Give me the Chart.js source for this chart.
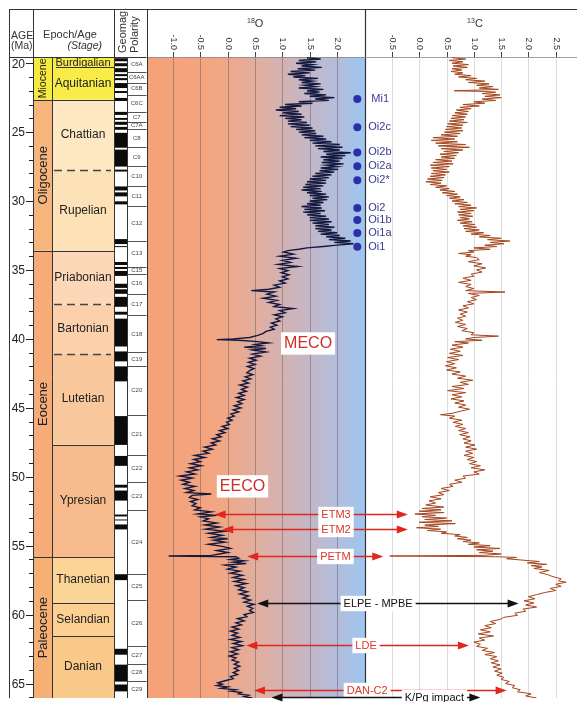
<!DOCTYPE html>
<html>
<head>
<meta charset="utf-8">
<script src="https://cdn.jsdelivr.net/npm/chart.js@4.4.1/dist/chart.umd.min.js"></script>
<style>
html, body { margin: 0; padding: 0; background: #fff; }
canvas { display: block; }
</style>
</head>
<body>
<canvas id="chart" width="581" height="702"></canvas>
<script>
// visible age window (Ma) and the value range of each isotope panel
const ageMin = 19.55, ageMax = 66.05;
const o18Min = -1.476, o18Max = 2.51;
const c13Min = -0.995, c13Max = 2.89;

const ageTicks = [20, 25, 30, 35, 40, 45, 50, 55, 60, 65];
const o18Ticks = [-1.0, -0.5, 0.0, 0.5, 1.0, 1.5, 2.0];
const c13Ticks = [-0.5, 0.0, 0.5, 1.0, 1.5, 2.0, 2.5];

const epochNames = ['Miocene', 'Oligocene', 'Eocene', 'Paleocene'];
const epochBounds = [19.55, 22.65, 33.6, 55.84, 66.05];

const stageNames = ['Burdigalian', 'Aquitanian', 'Chattian', 'Rupelian', 'Priabonian', 'Bartonian',
  'Lutetian', 'Ypresian', 'Thanetian', 'Selandian', 'Danian'];
const stageBounds = [19.55, 20.3, 22.65, 27.76, 33.6, 37.5, 41.06, 47.67, 55.84, 59.16, 61.56, 66.05];

const chronNames = ['C6A', 'C6AA', 'C6B', 'C6C', 'C7', 'C7A', 'C8', 'C9', 'C10', 'C11', 'C12', 'C13', 'C15',
  'C16', 'C17', 'C18', 'C19', 'C20', 'C21', 'C22', 'C23', 'C24', 'C25', 'C26', 'C27', 'C28', 'C29'];
const chronBounds = [19.55, 20.63, 21.42, 22.29, 23.55, 24.24, 24.74, 26.11, 27.48, 28.92, 30.36, 32.89, 34.76,
  35.27, 36.71, 38.3, 40.97, 41.98, 45.51, 48.39, 50.41, 52.43, 57.04, 58.92, 62.31, 63.61, 64.84, 66.05];

// normal polarity intervals [young, old]
const normalPolarity = [[19.64, 19.86], [20.0, 20.22], [20.36, 20.65], [20.79, 20.94], [21.08, 21.23],
  [21.44, 21.8], [22.02, 22.16], [22.52, 22.74], [23.53, 23.75], [23.97, 24.11], [24.25, 24.47],
  [24.62, 24.83], [25.05, 26.13], [26.27, 27.5], [27.72, 27.86], [28.94, 29.23], [29.37, 29.66],
  [30.02, 30.24], [32.76, 33.12], [33.27, 33.34], [34.42, 34.64], [34.78, 34.93], [35.07, 35.43],
  [36.0, 36.3], [36.4, 36.73], [36.95, 37.67], [38.03, 38.24], [38.53, 40.55], [40.91, 41.63],
  [41.99, 43.08], [45.6, 47.69], [48.49, 49.21], [50.58, 50.79], [51.0, 51.73], [52.74, 52.88],
  [53.1, 53.17], [53.46, 53.82], [57.07, 57.5], [62.48, 62.91], [63.63, 64.86], [65.07, 65.57]];

// benthic d18O [age Ma, permil]
const o18Miocene = [[19.6,1.45],[19.7,1.7],[19.8,1.3],[19.9,1.62],[20.0,1.25],[20.1,1.55],[20.2,1.35],[20.3,1.72],
  [20.4,1.28],[20.5,1.6],[20.6,1.15],[20.7,1.5],[20.8,1.1],[20.9,1.42],[21.0,1.2],[21.1,1.65],[21.2,1.3],
  [21.3,1.55],[21.4,1.35],[21.5,1.7],[21.6,1.4],[21.7,1.6],[21.8,1.3],[21.9,1.75],[22.0,1.45],[22.1,1.68],
  [22.2,1.4],[22.3,1.8],[22.4,1.5],[22.5,1.95],[22.6,1.6]];
const o18Oligocene = [[22.7,1.85],[22.8,1.3],[22.9,1.55],[23.0,1.05],[23.1,1.35],[23.2,0.95],[23.3,1.25],
  [23.4,0.88],[23.5,1.3],[23.6,1.0],[23.7,1.35],[23.8,0.95],[23.9,1.4],[24.0,1.05],[24.1,1.35],[24.2,1.1],
  [24.3,1.45],[24.4,1.1],[24.5,1.5],[24.6,1.15],[24.7,1.55],[24.8,1.25],[24.9,1.6],[25.0,1.3],[25.1,1.62],
  [25.2,1.35],[25.3,1.75],[25.4,1.4],[25.5,1.8],[25.6,1.5],[25.7,1.9],[25.8,1.55],[25.9,2.05],[26.0,1.6],
  [26.1,2.1],[26.2,1.65],[26.3,2.05],[26.4,1.75],[26.5,2.25],[26.6,1.8],[26.7,2.15],[26.8,1.7],[26.9,2.1],
  [27.0,1.75],[27.1,2.05],[27.2,1.72],[27.3,2.12],[27.4,1.8],[27.5,2.0],[27.6,1.7],[27.7,2.02],[27.8,1.68],
  [27.9,1.95],[28.0,1.6],[28.1,1.9],[28.2,1.55],[28.3,1.85],[28.4,1.5],[28.5,1.8],[28.6,1.45],[28.7,1.8],
  [28.8,1.42],[28.9,1.75],[29.0,1.38],[29.1,1.7],[29.2,1.35],[29.3,1.72],[29.4,1.45],[29.5,1.8],[29.6,1.5],
  [29.7,1.85],[29.8,1.55],[29.9,1.82],[30.0,1.5],[30.1,1.75],[30.2,1.45],[30.3,1.7],[30.4,1.35],[30.5,1.72],
  [30.6,1.4],[30.7,1.78],[30.8,1.38],[30.9,1.7],[31.0,1.45],[31.1,1.8],[31.2,1.5],[31.3,1.85],[31.4,1.5],
  [31.5,1.9],[31.6,1.55],[31.7,1.85],[31.8,1.6],[31.9,1.95],[32.0,1.6],[32.1,1.9],[32.2,1.65],[32.3,2.0],
  [32.4,1.7],[32.5,2.05],[32.6,1.8],[32.7,2.15],[32.8,1.85],[32.9,2.25],[33.0,1.95],[33.1,2.3],[33.2,2.0],
  [33.3,1.75],[33.4,1.45],[33.5,1.3],[33.6,1.1]];
const o18Eocene = [[33.7,1.02],[33.85,1.2],[34.0,0.95],[34.15,1.25],[34.3,1.0],[34.45,1.15],[34.6,0.92],
  [34.75,1.28],[34.9,0.95],[35.05,1.1],[35.2,0.98],[35.35,1.12],[35.5,1.0],[35.65,1.1],[35.8,0.95],[35.95,1.05],
  [36.1,0.85],[36.25,0.95],[36.4,0.75],[36.5,0.43],[36.6,0.85],[36.75,0.72],[36.9,0.88],[37.05,0.65],[37.2,0.9],
  [37.35,0.75],[37.5,0.95],[37.65,0.85],[37.8,1.2],[37.95,0.95],[38.1,1.05],[38.25,0.85],[38.4,1.0],[38.55,0.88],
  [38.7,0.95],[38.85,0.8],[39.0,0.9],[39.15,0.78],[39.3,0.85],[39.45,0.7],[39.6,0.65],[39.75,0.55],[39.9,0.4],
  [40.0,0.1],[40.05,-0.2],[40.1,0.2],[40.2,0.55],[40.3,0.75],[40.4,0.5],[40.5,0.62],[40.6,0.3],[40.7,0.7],
  [40.8,0.45],[40.95,0.7],[41.1,0.45],[41.25,0.6],[41.4,0.4],[41.55,0.52],[41.7,0.38],[41.85,0.5],[42.0,0.36],
  [42.15,0.48],[42.3,0.4],[42.45,0.35],[42.6,0.46],[42.75,0.32],[42.9,0.42],[43.05,0.28],[43.2,0.38],[43.35,0.22],
  [43.5,0.36],[43.65,0.25],[43.8,0.34],[43.95,0.2],[44.1,0.3],[44.25,0.16],[44.4,0.3],[44.55,0.18],[44.7,0.26],
  [44.85,0.12],[45.0,0.24],[45.15,0.1],[45.3,0.2],[45.45,0.06],[45.6,0.12],[45.75,0.0],[45.9,0.08],[46.05,-0.02],
  [46.2,0.03],[46.35,-0.1],[46.5,0.0],[46.65,-0.15],[46.8,-0.05],[46.95,-0.2],[47.1,-0.12],[47.25,-0.28],
  [47.4,-0.15],[47.55,-0.3],[47.7,-0.22],[47.85,-0.42],[48.0,-0.28],[48.15,-0.45],[48.3,-0.35],[48.45,-0.6],
  [48.6,-0.42],[48.75,-0.62],[48.9,-0.5],[49.05,-0.68],[49.2,-0.48],[49.35,-0.7],[49.5,-0.55],[49.65,-0.75],
  [49.8,-0.6],[49.95,-0.88],[50.1,-0.65],[50.25,-0.85],[50.4,-0.7],[50.55,-0.82],[50.7,-0.6],[50.85,-0.78],
  [51.0,-0.62],[51.15,-0.75],[51.25,-0.3],[51.35,-0.65],[51.5,-0.7],[51.65,-0.55],[51.8,-0.68],[51.95,-0.58],
  [52.1,-0.65],[52.25,-0.5],[52.4,-0.6],[52.55,-0.3],[52.7,-0.55],[52.8,-0.2],[52.9,-0.5],[53.05,-0.35],
  [53.2,-0.45],[53.35,-0.2],[53.5,-0.42],[53.65,-0.15],[53.8,-0.4],[53.95,-0.05],[54.1,-0.35],[54.25,-0.1],
  [54.4,-0.3],[54.5,0.0],[54.6,-0.25],[54.75,-0.05],[54.9,-0.35],[55.05,-0.1],[55.2,0.05],[55.35,-0.2],
  [55.5,0.0],[55.6,-0.15],[55.7,-0.3],[55.75,-1.08],[55.8,0.15]];
const o18Paleocene = [[55.9,0.2],[56.0,0.05],[56.1,0.3],[56.2,0.1],[56.3,0.34],[56.4,-0.05],[56.55,0.15],
  [56.7,0.0],[56.85,0.22],[57.0,0.05],[57.15,0.27],[57.3,0.1],[57.45,0.3],[57.6,0.12],[57.75,0.34],[57.9,0.15],
  [58.05,0.3],[58.2,0.2],[58.35,0.36],[58.5,0.22],[58.65,0.38],[58.8,0.28],[58.95,0.42],[59.1,0.3],[59.25,0.48],
  [59.4,0.36],[59.55,0.46],[59.7,0.4],[59.85,0.47],[60.0,0.3],[60.15,0.35],[60.3,0.18],[60.45,0.3],[60.6,0.15],
  [60.75,0.25],[60.9,0.08],[61.05,0.2],[61.2,0.05],[61.35,0.18],[61.5,0.08],[61.65,0.22],[61.8,0.05],[61.95,0.25],
  [62.1,0.1],[62.25,0.27],[62.4,0.08],[62.55,0.2],[62.7,0.05],[62.85,0.18],[63.0,0.03],[63.15,0.15],[63.3,0.08],
  [63.45,0.2],[63.6,0.12],[63.75,0.22],[63.9,0.12],[64.05,0.2],[64.2,0.1],[64.35,0.18],[64.5,0.05],[64.65,0.1],
  [64.8,-0.05],[64.95,-0.18],[65.05,-0.1],[65.15,-0.2],[65.25,0.0],[65.35,-0.12],[65.45,0.15],[65.55,0.05],
  [65.65,0.25],[65.75,0.2],[65.85,0.38],[65.95,0.3],[66.05,0.45]];

// benthic d13C [age Ma, permil]
const c13Miocene = [[19.6,0.6],[19.7,0.85],[19.8,0.55],[19.9,0.8],[20.0,0.6],[20.1,0.9],[20.2,0.62],[20.3,0.88],
  [20.4,0.6],[20.5,0.78],[20.6,0.58],[20.7,0.8],[20.8,0.65],[20.9,0.95],[21.0,0.72],[21.1,1.05],[21.2,0.85],
  [21.3,1.2],[21.4,0.9],[21.5,1.28],[21.6,1.05],[21.7,1.35],[21.8,1.1],[21.9,1.45],[22.0,0.64],[22.05,1.2],
  [22.1,1.4],[22.2,1.15],[22.3,1.48],[22.4,1.2],[22.5,1.5],[22.6,1.15]];
const c13Oligocene = [[22.7,1.4],[22.8,1.0],[22.9,1.2],[23.0,0.8],[23.1,1.1],[23.2,0.75],[23.3,0.95],[23.4,0.68],
  [23.5,0.9],[23.6,0.65],[23.7,0.88],[23.8,0.6],[23.9,0.85],[24.0,0.58],[24.1,0.82],[24.2,0.55],[24.3,0.88],
  [24.4,0.52],[24.5,0.8],[24.6,0.5],[24.7,0.78],[24.8,0.48],[24.9,0.8],[25.0,0.46],[25.1,0.75],[25.2,0.4],
  [25.3,0.7],[25.4,0.25],[25.5,0.65],[25.6,0.22],[25.7,0.7],[25.8,0.3],[25.9,0.85],[26.0,0.35],[26.1,0.92],
  [26.2,0.4],[26.3,0.8],[26.4,0.45],[26.5,0.72],[26.6,0.38],[26.7,0.68],[26.8,0.4],[26.9,0.65],[27.0,0.3],
  [27.1,0.6],[27.2,0.25],[27.3,0.62],[27.4,0.2],[27.5,0.55],[27.6,0.22],[27.7,0.5],[27.8,0.25],[27.9,0.55],
  [28.0,0.22],[28.1,0.48],[28.2,0.2],[28.3,0.45],[28.4,0.15],[28.5,0.42],[28.6,0.12],[28.7,0.4],[28.8,0.2],
  [28.9,0.5],[29.0,0.3],[29.1,0.55],[29.2,0.38],[29.3,0.65],[29.4,0.42],[29.5,0.7],[29.6,0.5],[29.7,0.75],
  [29.8,0.55],[29.9,0.82],[30.0,0.6],[30.1,0.88],[30.2,0.65],[30.3,0.95],[30.4,0.72],[30.5,1.05],[30.6,0.75],
  [30.7,1.0],[30.8,0.7],[30.9,0.95],[31.0,0.72],[31.1,0.98],[31.2,0.75],[31.3,0.92],[31.4,0.7],[31.5,0.97],
  [31.6,0.75],[31.7,1.02],[31.8,0.8],[31.9,1.05],[32.0,0.82],[32.1,1.1],[32.2,0.85],[32.3,1.18],[32.4,0.95],
  [32.5,1.3],[32.6,1.1],[32.7,1.5],[32.8,1.25],[32.9,1.66],[33.0,1.3],[33.1,1.55],[33.2,1.2],[33.3,1.42],
  [33.4,1.0],[33.5,1.3],[33.6,0.9]];
const c13Eocene = [[33.7,1.0],[33.8,0.72],[33.9,0.95],[34.0,0.85],[34.1,1.05],[34.25,1.1],[34.4,0.9],[34.55,1.15],
  [34.7,1.0],[34.85,1.22],[35.0,1.05],[35.15,1.15],[35.3,0.95],[35.45,1.0],[35.6,0.8],[35.75,0.95],[35.9,0.72],
  [36.05,0.95],[36.2,0.85],[36.35,1.0],[36.5,0.85],[36.6,1.57],[36.7,0.9],[36.85,1.1],[37.0,0.95],[37.15,1.05],
  [37.3,0.88],[37.45,1.0],[37.6,0.8],[37.75,0.9],[37.9,0.72],[38.05,0.88],[38.2,0.75],[38.35,0.85],[38.5,0.7],
  [38.65,0.8],[38.8,0.66],[38.95,0.85],[39.1,0.7],[39.25,0.88],[39.4,0.78],[39.55,1.0],[39.7,0.95],[39.8,1.45],
  [39.9,1.0],[40.0,0.85],[40.1,1.15],[40.2,0.65],[40.3,0.9],[40.45,0.6],[40.6,0.8],[40.75,0.57],[40.9,0.75],
  [41.05,0.55],[41.2,0.8],[41.35,0.52],[41.5,0.72],[41.65,0.5],[41.8,0.65],[41.95,0.48],[42.1,0.68],[42.25,0.5],
  [42.4,0.75],[42.55,0.6],[42.7,0.85],[42.85,0.7],[43.0,0.98],[43.15,0.75],[43.3,0.9],[43.45,0.6],[43.6,0.82],
  [43.75,0.52],[43.9,0.85],[44.05,0.6],[44.2,0.78],[44.35,0.58],[44.5,0.82],[44.65,0.65],[44.8,0.85],[44.95,0.72],
  [45.1,0.92],[45.25,0.75],[45.4,0.6],[45.5,0.39],[45.6,0.65],[45.75,0.55],[45.9,0.78],[46.05,0.62],[46.2,0.8],
  [46.35,0.66],[46.5,0.85],[46.65,0.72],[46.8,0.9],[46.95,0.74],[47.1,0.93],[47.25,0.8],[47.4,0.95],[47.55,0.82],
  [47.7,1.02],[47.85,0.85],[48.0,1.05],[48.15,0.85],[48.3,0.98],[48.45,0.82],[48.6,1.0],[48.75,0.88],[48.9,1.05],
  [49.05,0.92],[49.2,1.12],[49.35,0.95],[49.5,1.2],[49.65,1.0],[49.8,1.1],[49.95,0.8],[50.1,0.85],[50.25,0.65],
  [50.4,0.78],[50.55,0.55],[50.7,0.62],[50.85,0.4],[51.0,0.55],[51.15,0.35],[51.3,0.45],[51.45,0.2],[51.6,0.4],
  [51.75,0.18],[51.9,0.3],[52.05,0.12],[52.2,0.45],[52.3,0.05],[52.4,0.4],[52.5,0.0],[52.6,0.45],[52.7,-0.08],
  [52.8,0.3],[52.9,0.05],[53.0,0.5],[53.1,0.1],[53.2,0.6],[53.3,0.0],[53.4,0.66],[53.5,0.1],[53.6,0.35],
  [53.7,-0.05],[53.8,0.39],[53.9,0.15],[54.0,0.5],[54.1,0.4],[54.2,0.75],[54.3,0.65],[54.4,0.88],[54.5,0.7],
  [54.6,0.95],[54.7,0.8],[54.8,1.1],[54.9,0.9],[55.0,1.3],[55.1,1.0],[55.2,1.48],[55.3,1.05],[55.4,1.35],
  [55.5,1.1],[55.6,1.5],[55.7,1.2],[55.75,-0.54],[55.8,1.4]];
const c13Paleocene = [[55.85,1.78],[55.95,1.6],[56.05,1.9],[56.15,2.2],[56.25,1.98],[56.35,2.33],[56.45,2.05],
  [56.55,2.25],[56.65,2.1],[56.8,2.38],[56.95,2.2],[57.1,2.35],[57.25,2.45],[57.4,2.6],[57.55,2.55],[57.65,2.69],
  [57.8,2.5],[57.95,2.6],[58.1,2.4],[58.25,2.5],[58.4,2.3],[58.55,2.15],[58.7,2.0],[58.85,2.12],[59.0,1.92],
  [59.15,2.1],[59.3,1.95],[59.45,2.15],[59.6,1.9],[59.75,1.95],[59.9,1.75],[60.05,1.8],[60.2,1.55],[60.35,1.48],
  [60.5,1.3],[60.65,1.4],[60.8,1.2],[60.95,1.32],[61.1,1.12],[61.25,1.3],[61.4,1.08],[61.55,1.36],[61.7,1.1],
  [61.85,1.2],[62.0,1.0],[62.15,1.12],[62.3,1.05],[62.45,1.25],[62.6,1.15],[62.75,1.38],[62.9,1.2],[63.05,1.42],
  [63.2,1.3],[63.35,1.45],[63.5,1.32],[63.65,1.48],[63.8,1.35],[63.95,1.5],[64.1,1.38],[64.25,1.52],[64.4,1.42],
  [64.55,1.55],[64.7,1.5],[64.85,1.65],[65.0,1.58],[65.15,1.75],[65.3,1.7],[65.45,1.85],[65.6,1.8],[65.75,2.05],
  [65.9,1.95],[66.05,2.15]];

// glaciation events (d18O maxima)
const eventNames = ['Mi1', 'Oi2c', 'Oi2b', 'Oi2a', 'Oi2*', 'Oi2', 'Oi1b', 'Oi1a', 'Oi1'];
const eventAges = [22.6, 24.65, 26.47, 27.48, 28.49, 30.51, 31.37, 32.31, 33.32];
const eventO18 = 2.37;

// warm events: arrow from the d18O curve to the d13C curve
const arrowNames = ['ETM3', 'ETM2', 'PETM', 'ELPE - MPBE', 'LDE', 'DAN-C2', 'K/Pg impact'];
const arrowAges = [52.72, 53.8, 55.74, 59.13, 62.2, 65.44, 66.0];
const arrowFromO18 = [-0.24, -0.1, 0.356, 0.54, 0.34, 0.48, 0.8];
const arrowToC13 = [-0.21, -0.21, -0.66, 1.82, 0.91, 1.6, 1.12];

const climateNames = ['MECO', 'EECO'];
const climateAges = [40.33, 50.7];

// ---------- styling ----------
const FONT = '"Liberation Sans", Arial, Helvetica, sans-serif';
const epochColors = ['#f7ea3e', '#f6b57c', '#f5ac79', '#f5b075'];
const epochFont = [10.5, 13, 13, 13];
const stageColors = ['#f8ec48', '#f8ec48', '#fde8c3', '#fce2b6', '#fcd8b8', '#fbd0ab', '#f9c89c', '#f8bb8d',
  '#fbd597', '#fbd092', '#f9c98a'];
const dashedAt = [27.76, 37.5, 41.06];
const arrowColors = ['#e0261f', '#e0261f', '#e0261f', '#111', '#e0261f', '#e0261f', '#111'];
const arrowLabelX = [1.98, 1.98, 1.97, 2.75, 2.53, 2.55, 3.78]; // label centres on the d18O scale
const climateLabelX = [1.47, 0.27];
const COL = { left: 9, age: 33, epoch: 52, stage: 114, pol: 127, chron: 146.5 };
const oShare = 220 / 434; // part of the plot width used by the d18O panel

function txt(ctx, s, x, y, size, o) {
  o = o || {};
  ctx.save();
  ctx.font = (o.style || '') + ' ' + size + 'px ' + FONT;
  ctx.fillStyle = o.color || '#222';
  ctx.textAlign = o.align || 'center';
  ctx.textBaseline = o.base || 'middle';
  ctx.translate(x, y);
  if (o.rot) ctx.rotate(o.rot);
  ctx.fillText(s, 0, 0);
  ctx.restore();
}

function hline(ctx, x1, x2, y, color, w, dash) {
  ctx.save();
  ctx.strokeStyle = color; ctx.lineWidth = w || 1;
  if (dash) ctx.setLineDash(dash);
  ctx.beginPath(); ctx.moveTo(x1, y); ctx.lineTo(x2, y); ctx.stroke();
  ctx.restore();
}

function vline(ctx, x, y1, y2, color, w) {
  ctx.save();
  ctx.strokeStyle = color; ctx.lineWidth = w || 1;
  ctx.beginPath(); ctx.moveTo(x, y1); ctx.lineTo(x, y2); ctx.stroke();
  ctx.restore();
}

const panels = {
  id: 'panels',
  beforeDatasetsDraw(chart) {
    const { ctx, chartArea: a, scales } = chart;
    const xO = scales.xO, xC = scales.xC;
    const left = xO.getPixelForValue(o18Min), mid = xO.getPixelForValue(o18Max);
    const right = xC.getPixelForValue(c13Max);
    ctx.save();
    const g = ctx.createLinearGradient(left, 0, mid, 0);
    g.addColorStop(0, '#f5a178');
    g.addColorStop(0.32, '#f3a682');
    g.addColorStop(0.55, '#dcb0a6');
    g.addColorStop(0.75, '#c3b7c8');
    g.addColorStop(0.9, '#aebfe0');
    g.addColorStop(1, '#9ec5f1');
    ctx.fillStyle = g;
    ctx.fillRect(left, a.top, mid - left, a.bottom - a.top);
    ctx.restore();

    o18Ticks.forEach(v => {
      const x = Math.round(xO.getPixelForValue(v)) + 0.5;
      vline(ctx, x, a.top, a.bottom, 'rgba(110,100,105,0.55)', 1);
      vline(ctx, x, 52, a.top, '#444', 1);
      txt(ctx, v.toFixed(1), x, 50, 9, { rot: Math.PI / 2, align: 'right', color: '#333' });
    });
    c13Ticks.forEach(v => {
      const x = Math.round(xC.getPixelForValue(v)) + 0.5;
      vline(ctx, x, a.top, a.bottom, '#dcdcdc', 1);
      vline(ctx, x, 52, a.top, '#444', 1);
      txt(ctx, v.toFixed(1), x, 50, 9, { rot: Math.PI / 2, align: 'right', color: '#333' });
    });

    // panel titles
    txt(ctx, '18', 251, 21, 7, { color: '#333' });
    txt(ctx, 'O', 259, 24, 11, { color: '#333' });
    txt(ctx, '13', 471, 21, 7, { color: '#333' });
    txt(ctx, 'C', 479, 24, 11, { color: '#333' });

    vline(ctx, Math.round(left) + 0.5, 9.5, a.bottom, '#222', 1);
    vline(ctx, Math.round(mid) + 0.5, 9.5, a.bottom, '#333', 1.2);
    hline(ctx, COL.left, right, 9.5, '#333', 1.2);
    hline(ctx, left, right, a.top + 0.5, '#888', 0.8);
  }
};

const columns = {
  id: 'columns',
  afterDraw(chart) {
    const { ctx, chartArea: a, scales } = chart;
    const Y = v => scales.y.getPixelForValue(v);
    const top = a.top, bot = a.bottom;

    ctx.save();
    ctx.fillStyle = '#fff';
    ctx.fillRect(COL.left, top, COL.age - COL.left, bot - top);

    // epochs
    epochNames.forEach((n, i) => {
      const y0 = Y(epochBounds[i]), y1 = Y(epochBounds[i + 1]);
      ctx.fillStyle = epochColors[i];
      ctx.fillRect(COL.age, y0, COL.epoch - COL.age, y1 - y0);
    });
    // stages
    stageNames.forEach((n, i) => {
      const y0 = Y(stageBounds[i]), y1 = Y(stageBounds[i + 1]);
      ctx.fillStyle = stageColors[i];
      ctx.fillRect(COL.epoch, y0, COL.stage - COL.epoch, y1 - y0);
    });
    stageNames.forEach((n, i) => {
      const y0 = Y(stageBounds[i]), y1 = Y(stageBounds[i + 1]);
      if (i === 0) {
        txt(ctx, n, 83, (y0 + y1) / 2 + 0.5, 11, { color: '#222' });
      } else {
        txt(ctx, n, 83, (y0 + y1) / 2, 12, { color: '#222' });
      }
    });
    epochNames.forEach((n, i) => {
      const y0 = Y(epochBounds[i]), y1 = Y(epochBounds[i + 1]);
      txt(ctx, n, 43, (y0 + y1) / 2, epochFont[i], { rot: -Math.PI / 2, color: '#222' });
    });
    // stage boundaries
    stageBounds.slice(1, -1).forEach((b, i) => {
      const y = Math.round(Y(b)) + 0.5;
      if (epochBounds.indexOf(b) >= 0) {
        hline(ctx, COL.age, COL.stage, y, '#333', 1);
      } else if (dashedAt.indexOf(b) >= 0) {
        hline(ctx, COL.epoch + 2, COL.stage - 3, y, '#444', 1.3, [8, 5]);
      } else if (i === 0) {
        hline(ctx, 56, COL.stage + 3, y, '#333', 1);
      } else {
        hline(ctx, COL.epoch, COL.stage, y, '#333', 1);
      }
    });

    // polarity bar
    ctx.fillStyle = '#fff';
    ctx.fillRect(COL.stage, top, COL.chron - COL.stage, bot - top);
    ctx.fillStyle = '#0b0b0b';
    normalPolarity.forEach(p => {
      const y0 = Y(p[0]), y1 = Y(p[1]);
      ctx.fillRect(COL.stage, y0, COL.pol - COL.stage, y1 - y0);
    });
    chronNames.forEach((n, i) => {
      const y0 = Y(chronBounds[i]), y1 = Y(chronBounds[i + 1]);
      if (i < chronNames.length - 1) hline(ctx, COL.pol, COL.chron, Math.round(y1) + 0.5, '#555', 1);
      txt(ctx, n, (COL.pol + COL.chron) / 2, (y0 + y1) / 2, 6, { color: '#444' });
    });

    // age axis
    for (let t = 20; t <= 66; t++) {
      const y = Math.round(Y(t)) + 0.5;
      const major = t % 5 === 0;
      hline(ctx, major ? COL.age - 7 : COL.age - 4, COL.age, y, '#222', 1);
    }
    ageTicks.forEach(t => txt(ctx, String(t), 25, Y(t) + 1, 12, { align: 'right', color: '#222' }));

    // column borders
    [COL.left, COL.age, COL.epoch, COL.stage, COL.pol, COL.chron].forEach((x, i) => {
      const y1 = (i === 2 || i === 4) ? top : 9.5;
      vline(ctx, Math.round(x) + 0.5, y1, bot, '#333', 1);
    });
    hline(ctx, COL.left, COL.chron, top + 0.5, '#333', 1);

    // header
    txt(ctx, 'AGE', 11, 36, 10.5, { align: 'left', color: '#333' });
    txt(ctx, '(Ma)', 11, 46, 10.5, { align: 'left', color: '#333' });
    txt(ctx, 'Epoch/Age', 70, 35, 11, { color: '#333' });
    txt(ctx, '(Stage)', 102, 46, 10.5, { align: 'right', style: 'italic', color: '#333' });
    txt(ctx, 'Geomag.', 123, 53, 11, { rot: -Math.PI / 2, align: 'left', color: '#333' });
    txt(ctx, 'Polarity', 135, 53, 11, { rot: -Math.PI / 2, align: 'left', color: '#333' });
    ctx.restore();
  }
};

function arrowHead(ctx, x, y, dir, color) {
  ctx.fillStyle = color;
  ctx.beginPath();
  ctx.moveTo(x, y);
  ctx.lineTo(x - dir * 11, y - 4);
  ctx.lineTo(x - dir * 11, y + 4);
  ctx.closePath();
  ctx.fill();
}

function boxLabel(ctx, s, x, y, size, color) {
  ctx.save();
  ctx.font = size + 'px ' + FONT;
  const w = ctx.measureText(s).width + 6;
  ctx.fillStyle = '#fff';
  ctx.fillRect(x - w / 2, y - size * 0.7, w, size * 1.4);
  ctx.restore();
  txt(ctx, s, x, y + 0.5, size, { color: color });
}

const notes = {
  id: 'notes',
  afterDatasetsDraw(chart) {
    const { ctx, scales } = chart;
    const xO = scales.xO, xC = scales.xC, y = scales.y;

    eventNames.forEach((n, i) => {
      txt(ctx, n, xO.getPixelForValue(eventO18) + (i === 0 ? 14 : 11), y.getPixelForValue(eventAges[i]), 11,
        { align: 'left', color: '#3b3b90' });
    });

    climateNames.forEach((n, i) => {
      boxLabel(ctx, n, xO.getPixelForValue(climateLabelX[i]), y.getPixelForValue(climateAges[i]), 16, '#cf2f2a');
    });

    ctx.save();
    arrowNames.forEach((n, i) => {
      const yy = Math.round(y.getPixelForValue(arrowAges[i])) + 0.5;
      const x1 = xO.getPixelForValue(arrowFromO18[i]);
      const x2 = xC.getPixelForValue(arrowToC13[i]);
      const c = arrowColors[i];
      ctx.strokeStyle = c; ctx.lineWidth = 1.4;
      ctx.beginPath(); ctx.moveTo(x1 + 8, yy); ctx.lineTo(x2 - 8, yy); ctx.stroke();
      arrowHead(ctx, x1, yy, -1, c);
      arrowHead(ctx, x2, yy, 1, c);
      boxLabel(ctx, n, xO.getPixelForValue(arrowLabelX[i]), yy, 11, c === '#111' ? '#111' : '#d9362b');
    });
    ctx.restore();
  }
};

const toXY = rows => rows.map(r => ({ x: r[1], y: r[0] }));
const o18 = [].concat(o18Miocene, o18Oligocene, o18Eocene, o18Paleocene);
const c13 = [].concat(c13Miocene, c13Oligocene, c13Eocene, c13Paleocene);

new Chart(document.getElementById('chart'), {
  type: 'scatter',
  data: {
    datasets: [
      {
        label: 'd18O', data: toXY(o18), xAxisID: 'xO', yAxisID: 'y', showLine: true,
        borderColor: '#141a3f', borderWidth: 1.4, pointRadius: 0
      },
      {
        label: 'd13C', data: toXY(c13), xAxisID: 'xC', yAxisID: 'y', showLine: true,
        borderColor: '#a4451c', borderWidth: 1.0, pointRadius: 0
      },
      {
        label: 'events', data: eventAges.map(a => ({ x: eventO18, y: a })), xAxisID: 'xO', yAxisID: 'y',
        pointRadius: 4, backgroundColor: '#2b30a8', borderWidth: 0
      }
    ]
  },
  options: {
    responsive: false,
    animation: false,
    devicePixelRatio: 1,
    events: [],
    layout: { padding: { left: 147, top: 57, right: 0, bottom: 0 } },
    plugins: { legend: { display: false }, tooltip: { enabled: false } },
    scales: {
      y: { type: 'linear', reverse: true, min: ageMin, max: ageMax, display: false },
      xO: { type: 'linear', axis: 'x', min: o18Min, max: o18Min + (o18Max - o18Min) / oShare, display: false },
      xC: { type: 'linear', axis: 'x', min: c13Max - (c13Max - c13Min) / (1 - oShare), max: c13Max, display: false }
    }
  },
  plugins: [panels, columns, notes]
});
</script>
</body>
</html>
